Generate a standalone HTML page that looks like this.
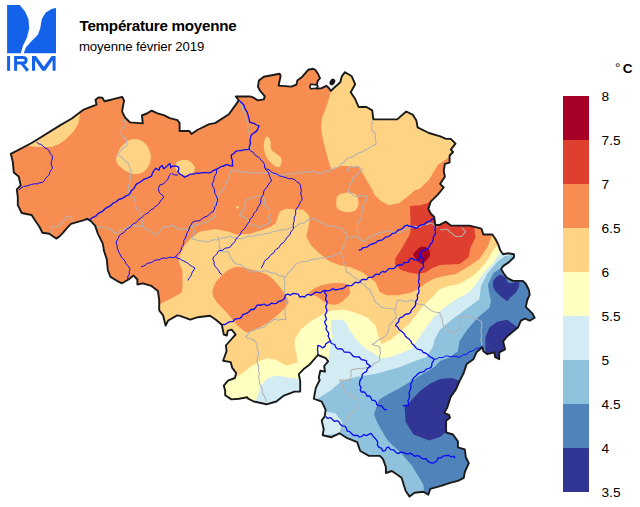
<!DOCTYPE html>
<html><head><meta charset="utf-8">
<style>
html,body{margin:0;padding:0;background:#fff;}
body{width:640px;height:507px;position:relative;overflow:hidden;font-family:"Liberation Sans",sans-serif;}
.t{position:absolute;white-space:nowrap;color:#000;line-height:1;}
</style></head><body>
<svg width="640" height="507" viewBox="0 0 640 507" style="position:absolute;left:0;top:0">
<defs><clipPath id="be"><polygon points="10.8,153.8 31.6,143.0 36.5,140.0 60.0,125.4 71.8,118.5 83.7,109.6 96.5,104.7 95.5,99.7 98.5,97.4 102.4,97.8 104.4,101.3 111.3,99.7 122.1,96.8 124.1,100.7 123.1,105.6 122.1,111.6 125.1,117.5 130.0,122.4 142.8,123.4 141.9,115.5 146.8,113.5 151.7,110.6 157.5,113.3 163.8,115.2 169.7,118.2 177.6,120.2 179.6,123.1 179.6,131.0 189.4,131.0 191.4,134.0 197.3,130.0 209.2,124.1 215.1,123.1 228.9,114.2 238.8,100.4 235.8,96.5 250.0,96.4 253.0,97.4 257.9,100.4 263.8,99.4 264.8,96.4 259.9,90.5 257.9,86.6 258.9,80.6 263.8,76.7 279.6,73.7 280.6,75.7 278.6,85.6 291.4,86.6 296.4,84.6 297.3,80.6 302.3,76.7 308.2,69.8 313.1,68.8 315.3,69.8 318.4,74.5 320.0,78.4 317.7,80.8 316.9,84.7 316.1,88.6 321.6,88.2 326.3,85.8 328.6,87.8 330.9,90.9 334.1,87.8 340.3,82.3 341.9,76.1 345.0,72.2 347.6,73.7 351.8,76.3 355.2,84.3 350.7,92.2 355.2,99.0 358.6,107.0 366.5,107.0 372.2,110.4 373.4,119.4 385.8,119.4 397.2,119.4 406.2,111.5 413.0,114.9 416.4,120.6 417.6,127.4 428.9,133.0 440.3,136.4 446.0,138.9 450.8,138.9 455.5,143.7 450.8,149.6 453.1,152.0 449.6,155.5 449.6,162.6 444.9,163.8 443.7,170.9 444.9,176.8 440.1,183.9 443.7,187.5 437.8,194.6 430.7,201.7 428.3,208.8 430.7,213.5 434.2,217.0 435.4,225.3 440.0,224.7 445.9,221.7 450.8,225.6 459.7,225.6 469.6,225.6 481.4,228.6 483.4,234.5 492.3,234.5 495.2,238.5 498.2,244.4 500.2,250.3 503.1,254.2 508.0,253.3 514.0,254.2 514.0,257.2 509.0,262.1 503.1,266.1 501.1,269.0 504.1,274.0 507.1,277.9 513.0,280.9 522.8,280.9 525.8,283.8 528.8,289.7 529.7,294.7 527.3,300.0 525.8,306.9 532.7,313.8 534.7,317.8 529.7,320.7 524.8,318.7 520.9,320.7 517.9,327.6 513.0,331.6 507.1,336.5 503.1,341.4 505.1,349.3 499.2,352.3 499.2,359.2 495.2,357.2 494.2,352.3 487.3,354.2 483.4,351.3 482.4,347.3 476.5,352.3 473.5,359.2 466.6,364.1 463.7,373.0 459.7,380.9 455.8,389.7 450.8,396.6 447.1,407.9 444.1,412.8 449.0,414.8 450.0,417.8 446.1,420.7 446.1,432.5 453.0,434.5 457.9,441.4 457.9,447.3 464.8,449.3 465.8,457.2 468.8,463.1 464.8,472.0 463.8,477.9 457.9,480.9 450.0,482.8 441.1,485.8 430.3,488.8 428.3,494.7 423.4,491.7 414.5,492.7 409.6,496.6 405.6,490.7 403.7,484.8 401.7,477.9 397.8,475.0 391.8,471.0 385.9,473.0 385.9,467.1 383.0,459.2 379.9,455.9 369.0,455.9 360.2,451.0 357.2,442.1 347.3,438.2 339.4,433.3 331.6,437.2 322.7,435.2 323.7,429.3 321.7,420.4 324.7,416.5 325.6,409.6 321.7,401.7 313.8,398.7 315.8,387.9 319.7,380.0 318.7,377.9 320.3,370.8 325.0,371.6 324.2,366.0 328.1,361.3 325.8,358.1 317.9,355.0 310.0,364.2 304.4,368.4 298.8,374.1 300.2,381.1 300.2,391.6 294.5,391.6 283.3,395.9 276.3,401.5 266.4,404.3 253.8,401.5 248.1,398.7 247.3,397.3 239.0,398.7 231.4,399.4 225.2,395.2 225.2,391.1 223.8,385.6 228.0,380.7 234.9,378.0 236.2,373.1 232.1,367.6 230.7,362.1 223.1,360.7 226.6,351.0 225.9,345.5 230.7,340.0 235.6,334.5 231.7,329.6 227.8,330.6 226.8,335.5 223.8,334.5 221.8,324.7 215.9,319.7 210.0,315.8 197.9,317.2 190.3,319.7 180.0,315.9 177.2,315.4 168.2,320.5 165.6,325.6 163.1,315.4 159.2,310.3 159.2,300.0 157.9,291.0 151.5,285.9 142.6,283.3 137.4,284.6 137.4,279.5 133.6,275.6 128.5,279.5 122.0,283.3 116.9,280.8 110.5,276.9 107.9,270.5 106.7,259.0 104.1,251.3 102.8,243.6 97.7,233.3 95.1,225.6 90.7,220.9 86.8,218.9 84.8,219.9 77.9,221.9 71.0,223.8 67.1,227.8 63.1,232.7 59.2,236.6 56.2,238.6 49.3,233.7 42.4,232.7 39.4,226.8 35.5,220.9 31.6,215.0 21.7,213.0 17.8,205.1 17.8,197.2 16.8,189.3 20.7,185.4 18.7,176.5 13.8,172.5 12.8,161.7"/></clipPath></defs>
<g fill="#1462ea">
<path d="M7.1,5 L19.7,5 L25.2,11.8 L28.4,18.9 L29.2,28.4 L26.8,37.9 L22.9,45.8 L20.8,53.3 L7.1,53.3Z"/>
<rect x="7.1" y="55.9" width="3" height="14.9"/>
<path d="M32,70.8 L32,55.9 L36,55.9 L43.8,66.8 L51.6,55.9 L55.6,55.9 L55.6,70.8 L52.6,70.8 L52.6,60.3 L45.3,70.8 L42.3,70.8 L35.1,60.3 L35.1,70.8Z"/>
<path d="M56,7.9 L56,53.3 L23.7,53.3 L26,47.3 L31.6,41 L37.9,34.7 L40.2,28.4 L41.8,18.9 L45.8,12.6 L52.1,8.7Z"/>
</g>
<path fill="none" stroke="#1462ea" stroke-width="3" d="M15.6,70.8 V57.4 H22.8 Q26.1,57.4 26.1,60.2 Q26.1,62.9 22.8,62.9 H15.6 M21.5,62.9 L27.8,70.8"/>
<g clip-path="url(#be)">
<polygon fill="#f88d52" points="10.8,153.8 31.6,143.0 36.5,140.0 60.0,125.4 71.8,118.5 83.7,109.6 96.5,104.7 95.5,99.7 98.5,97.4 102.4,97.8 104.4,101.3 111.3,99.7 122.1,96.8 124.1,100.7 123.1,105.6 122.1,111.6 125.1,117.5 130.0,122.4 142.8,123.4 141.9,115.5 146.8,113.5 151.7,110.6 157.5,113.3 163.8,115.2 169.7,118.2 177.6,120.2 179.6,123.1 179.6,131.0 189.4,131.0 191.4,134.0 197.3,130.0 209.2,124.1 215.1,123.1 228.9,114.2 238.8,100.4 235.8,96.5 250.0,96.4 253.0,97.4 257.9,100.4 263.8,99.4 264.8,96.4 259.9,90.5 257.9,86.6 258.9,80.6 263.8,76.7 279.6,73.7 280.6,75.7 278.6,85.6 291.4,86.6 296.4,84.6 297.3,80.6 302.3,76.7 308.2,69.8 313.1,68.8 315.3,69.8 318.4,74.5 320.0,78.4 317.7,80.8 316.9,84.7 316.1,88.6 321.6,88.2 326.3,85.8 328.6,87.8 330.9,90.9 334.1,87.8 340.3,82.3 341.9,76.1 345.0,72.2 347.6,73.7 351.8,76.3 355.2,84.3 350.7,92.2 355.2,99.0 358.6,107.0 366.5,107.0 372.2,110.4 373.4,119.4 385.8,119.4 397.2,119.4 406.2,111.5 413.0,114.9 416.4,120.6 417.6,127.4 428.9,133.0 440.3,136.4 446.0,138.9 450.8,138.9 455.5,143.7 450.8,149.6 453.1,152.0 449.6,155.5 449.6,162.6 444.9,163.8 443.7,170.9 444.9,176.8 440.1,183.9 443.7,187.5 437.8,194.6 430.7,201.7 428.3,208.8 430.7,213.5 434.2,217.0 435.4,225.3 440.0,224.7 445.9,221.7 450.8,225.6 459.7,225.6 469.6,225.6 481.4,228.6 483.4,234.5 492.3,234.5 495.2,238.5 498.2,244.4 500.2,250.3 503.1,254.2 508.0,253.3 514.0,254.2 514.0,257.2 509.0,262.1 503.1,266.1 501.1,269.0 504.1,274.0 507.1,277.9 513.0,280.9 522.8,280.9 525.8,283.8 528.8,289.7 529.7,294.7 527.3,300.0 525.8,306.9 532.7,313.8 534.7,317.8 529.7,320.7 524.8,318.7 520.9,320.7 517.9,327.6 513.0,331.6 507.1,336.5 503.1,341.4 505.1,349.3 499.2,352.3 499.2,359.2 495.2,357.2 494.2,352.3 487.3,354.2 483.4,351.3 482.4,347.3 476.5,352.3 473.5,359.2 466.6,364.1 463.7,373.0 459.7,380.9 455.8,389.7 450.8,396.6 447.1,407.9 444.1,412.8 449.0,414.8 450.0,417.8 446.1,420.7 446.1,432.5 453.0,434.5 457.9,441.4 457.9,447.3 464.8,449.3 465.8,457.2 468.8,463.1 464.8,472.0 463.8,477.9 457.9,480.9 450.0,482.8 441.1,485.8 430.3,488.8 428.3,494.7 423.4,491.7 414.5,492.7 409.6,496.6 405.6,490.7 403.7,484.8 401.7,477.9 397.8,475.0 391.8,471.0 385.9,473.0 385.9,467.1 383.0,459.2 379.9,455.9 369.0,455.9 360.2,451.0 357.2,442.1 347.3,438.2 339.4,433.3 331.6,437.2 322.7,435.2 323.7,429.3 321.7,420.4 324.7,416.5 325.6,409.6 321.7,401.7 313.8,398.7 315.8,387.9 319.7,380.0 318.7,377.9 320.3,370.8 325.0,371.6 324.2,366.0 328.1,361.3 325.8,358.1 317.9,355.0 310.0,364.2 304.4,368.4 298.8,374.1 300.2,381.1 300.2,391.6 294.5,391.6 283.3,395.9 276.3,401.5 266.4,404.3 253.8,401.5 248.1,398.7 247.3,397.3 239.0,398.7 231.4,399.4 225.2,395.2 225.2,391.1 223.8,385.6 228.0,380.7 234.9,378.0 236.2,373.1 232.1,367.6 230.7,362.1 223.1,360.7 226.6,351.0 225.9,345.5 230.7,340.0 235.6,334.5 231.7,329.6 227.8,330.6 226.8,335.5 223.8,334.5 221.8,324.7 215.9,319.7 210.0,315.8 197.9,317.2 190.3,319.7 180.0,315.9 177.2,315.4 168.2,320.5 165.6,325.6 163.1,315.4 159.2,310.3 159.2,300.0 157.9,291.0 151.5,285.9 142.6,283.3 137.4,284.6 137.4,279.5 133.6,275.6 128.5,279.5 122.0,283.3 116.9,280.8 110.5,276.9 107.9,270.5 106.7,259.0 104.1,251.3 102.8,243.6 97.7,233.3 95.1,225.6 90.7,220.9 86.8,218.9 84.8,219.9 77.9,221.9 71.0,223.8 67.1,227.8 63.1,232.7 59.2,236.6 56.2,238.6 49.3,233.7 42.4,232.7 39.4,226.8 35.5,220.9 31.6,215.0 21.7,213.0 17.8,205.1 17.8,197.2 16.8,189.3 20.7,185.4 18.7,176.5 13.8,172.5 12.8,161.7"/>
<polygon fill="#fed384" points="26.0,144.0 27.6,145.9 39.4,146.9 51.3,146.9 59.2,144.0 65.1,140.0 73.8,131.3 78.7,122.4 79.7,115.5 82.0,100.0 20.0,135.0"/>
<path fill="#fed384" d="M117.2,155.0 C118.0,152.7 119.1,149.6 121.1,147.1 C123.1,144.6 126.4,141.5 129.0,140.2 C131.6,138.9 134.3,138.7 136.9,139.2 C139.5,139.7 142.7,141.1 144.8,143.1 C146.9,145.1 148.7,148.4 149.7,151.0 C150.7,153.6 151.2,155.9 150.7,158.9 C150.2,161.9 148.8,166.3 146.8,168.8 C144.8,171.3 141.9,173.0 138.9,173.7 C135.9,174.3 132.1,173.8 129.0,172.7 C125.9,171.5 122.3,168.8 120.2,166.8 C118.1,164.8 116.7,162.9 116.2,160.9 C115.7,158.9 116.4,157.3 117.2,155.0Z"/>
<path fill="#fed384" d="M175.6,163.8 C176.4,161.9 179.7,160.4 182.0,160.0 C184.3,159.6 187.5,160.0 189.7,161.3 C191.8,162.6 194.7,165.6 194.9,167.7 C195.1,169.8 193.2,172.8 191.0,174.1 C188.8,175.4 184.3,175.8 182.0,175.4 C179.7,175.0 178.0,173.4 176.9,171.5 C175.8,169.6 174.8,165.7 175.6,163.8Z"/>
<path fill="#fed384" d="M265.0,138.8 C265.6,137.0 266.3,136.2 267.2,136.6 C268.1,136.9 269.8,138.7 270.5,140.9 C271.2,143.1 269.8,146.8 271.6,149.7 C273.4,152.6 280.3,155.5 281.4,158.4 C282.5,161.3 280.5,167.2 278.1,167.2 C275.7,167.2 269.6,161.7 267.2,158.4 C264.8,155.1 264.3,150.8 263.9,147.5 C263.5,144.2 264.4,140.6 265.0,138.8Z"/>
<polygon fill="#fed384" points="330.9,91.5 328.9,98.4 325.9,108.3 322.0,118.1 321.0,128.0 323.0,139.8 325.9,151.6 329.9,165.8 331.8,169.7 341.7,165.8 358.6,167.1 362.4,172.7 367.3,181.6 372.3,189.4 374.2,194.4 381.1,201.3 389.0,205.2 398.9,203.3 406.8,197.3 414.7,190.4 420.0,188.5 428.9,180.0 438.0,164.8 444.8,160.3 470.0,140.0 440.0,90.0 360.0,50.0 333.0,80.0"/>
<path fill="#fed384" d="M336.8,197.3 C337.3,195.2 337.9,195.2 339.7,194.4 C341.5,193.6 345.0,192.4 347.6,192.4 C350.2,192.4 353.7,192.9 355.5,194.4 C357.3,195.9 358.3,198.8 358.5,201.3 C358.7,203.8 358.0,207.4 356.5,209.2 C355.0,211.0 352.1,211.8 349.6,212.1 C347.1,212.4 343.8,211.9 341.7,211.1 C339.6,210.3 337.6,209.5 336.8,207.2 C336.0,204.9 336.3,199.4 336.8,197.3Z"/>
<polygon fill="#fed384" points="150.0,310.0 163.1,302.6 172.0,298.0 181.6,292.7 182.5,287.2 182.5,271.3 178.6,261.4 179.6,255.5 184.5,245.6 189.4,239.7 199.3,231.8 215.1,228.9 228.9,231.8 236.8,234.8 250.0,233.8 262.0,230.0 270.0,227.0 275.6,223.5 279.6,211.7 285.5,208.7 303.3,209.7 309.2,215.6 309.2,223.5 306.2,236.4 311.1,245.2 319.0,253.1 328.9,261.0 338.8,265.0 350.0,266.9 361.8,272.0 370.0,278.0 375.5,282.1 379.7,291.8 386.6,295.2 397.6,295.2 410.0,293.1 418.3,289.0 425.2,283.5 433.5,279.0 440.0,277.0 455.8,274.0 467.6,267.1 479.4,259.2 487.3,247.3 492.3,234.5 520.0,240.0 560.0,300.0 500.0,520.0 150.0,520.0"/>
<path fill="#f88d52" d="M212.5,292.0 C212.3,289.2 214.1,286.1 215.0,284.0 C215.9,281.9 216.2,281.7 218.0,279.7 C219.8,277.7 222.6,274.1 225.6,272.0 C228.6,269.9 231.6,267.3 235.9,266.9 C240.2,266.5 246.2,268.2 251.3,269.5 C256.4,270.8 262.4,272.2 266.7,274.6 C271.0,277.0 274.1,280.7 276.9,283.6 C279.7,286.5 281.4,289.3 283.3,292.0 C285.2,294.7 287.2,298.0 288.0,300.0 C288.8,302.0 289.1,302.0 287.9,304.0 C286.7,306.0 284.1,308.9 281.0,311.8 C277.9,314.8 273.5,318.7 269.2,321.7 C264.9,324.7 259.0,327.8 255.4,329.6 C251.8,331.4 250.5,333.2 247.5,332.5 C244.5,331.8 240.9,328.7 237.6,325.6 C234.3,322.5 231.4,317.9 227.8,313.8 C224.2,309.7 218.6,304.6 216.0,301.0 C213.4,297.4 212.7,294.8 212.5,292.0Z"/>
<path fill="#f88d52" d="M308.6,293.0 C309.3,291.8 313.4,289.0 316.3,287.5 C319.2,286.0 322.7,284.9 326.1,284.2 C329.6,283.5 333.5,283.1 337.0,283.1 C340.5,283.1 344.8,283.2 346.9,284.2 C349.0,285.2 349.2,287.5 349.6,289.1 C350.1,290.8 350.4,292.4 349.6,294.1 C348.8,295.8 346.6,297.9 344.7,299.5 C342.8,301.1 340.3,303.1 338.1,303.9 C335.9,304.7 334.0,304.9 331.6,304.5 C329.2,304.1 326.1,302.9 323.9,301.7 C321.7,300.5 320.4,298.6 318.4,297.4 C316.4,296.2 313.5,295.3 311.9,294.6 C310.3,293.9 307.9,294.2 308.6,293.0Z"/>
<polygon fill="#de3f2e" points="410.0,206.0 420.0,205.2 428.0,203.0 440.0,195.0 445.0,215.0 474.5,215.0 474.5,228.6 475.5,237.5 470.6,247.3 468.6,257.2 459.7,264.1 440.0,265.1 432.1,268.3 425.2,272.4 416.9,273.8 408.7,272.4 400.4,269.7 394.9,264.1 395.5,258.0 400.0,251.6 409.5,235.0 410.5,231.0 410.5,223.0"/>
<polygon fill="#a50026" points="420.5,246.8 426.0,246.8 430.0,251.6 430.0,255.9 426.8,260.2 422.1,264.2 418.1,261.8 413.0,254.7 415.8,250.8"/>
<polygon fill="#ffffbf" points="212.0,378.0 237.6,376.6 245.9,370.4 251.4,366.2 260.0,360.7 267.2,358.2 276.3,360.0 286.1,365.6 297.4,362.8 296.8,355.2 294.8,347.3 294.8,339.4 300.7,329.6 310.0,321.7 320.0,316.0 329.5,311.0 343.7,309.5 354.7,312.6 367.3,317.4 375.2,325.2 378.4,336.3 381.5,344.2 391.0,339.4 401.0,331.3 410.0,323.0 416.0,315.0 423.0,306.0 430.0,299.5 436.0,293.2 440.0,289.0 449.4,286.0 459.7,283.8 474.5,275.0 485.4,263.1 493.3,250.3 498.2,244.4 540.0,250.0 540.0,520.0 220.0,520.0"/>
<polygon fill="#d3ecf4" points="250.0,420.0 257.3,396.6 260.8,385.3 267.8,378.3 276.3,375.5 284.7,376.9 298.8,379.0 300.2,381.1 328.1,361.3 330.0,350.0 330.5,342.0 332.9,336.7 331.4,330.8 330.9,322.9 331.9,319.9 341.8,319.5 346.7,322.9 348.7,328.8 353.6,335.7 358.5,342.6 365.4,348.5 372.4,352.5 381.5,358.4 391.0,356.8 400.0,353.6 411.0,349.0 416.9,341.1 422.0,333.0 428.0,325.0 433.0,318.0 440.0,311.0 455.0,300.0 469.6,292.0 478.0,281.0 486.0,270.0 493.3,263.0 500.2,252.0 540.0,250.0 540.0,520.0 250.0,520.0"/>
<polygon fill="#8fc3dd" points="310.0,410.0 317.7,398.7 331.7,389.8 342.2,380.5 357.0,376.8 375.0,374.0 388.0,370.5 400.0,367.0 415.0,360.9 426.8,356.9 432.7,347.1 434.7,339.2 440.0,329.5 452.0,319.5 465.5,309.5 479.2,299.5 481.0,286.0 487.0,274.0 497.0,262.0 505.0,256.0 540.0,250.0 540.0,520.0 310.0,520.0"/>
<polygon fill="#d3ecf4" points="322.0,409.0 325.6,411.6 335.5,413.5 342.4,422.4 339.4,433.3 320.0,436.0"/>
<polygon fill="#5183bb" points="374.0,414.5 377.0,422.0 381.0,429.3 388.0,441.0 400.0,452.0 406.0,459.0 411.6,465.1 417.0,474.0 423.4,484.8 424.4,495.0 540.0,520.0 540.0,250.0 520.0,262.0 503.0,267.0 493.3,273.0 488.0,284.8 489.0,292.0 491.0,301.0 489.3,307.9 477.5,317.8 467.0,330.0 459.5,341.0 457.8,351.3 449.9,357.2 440.0,361.0 434.7,366.8 424.8,372.7 413.0,380.0 400.0,387.9 388.8,393.8 378.9,399.7"/>
<path fill="#313695" d="M493.3,281.1 C494.1,278.8 497.2,275.9 499.2,275.2 C501.2,274.5 503.5,275.9 505.1,277.2 C506.7,278.5 506.7,282.3 509.0,283.1 C511.3,283.9 517.6,280.8 518.9,282.1 C520.2,283.4 518.5,288.2 516.9,291.0 C515.2,293.8 510.6,297.2 509.0,298.9 C507.4,300.5 508.7,301.5 507.1,300.9 C505.5,300.2 501.4,297.0 499.2,295.0 C497.0,293.0 495.2,291.3 494.2,289.0 C493.2,286.7 492.5,283.4 493.3,281.1Z"/>
<polygon fill="#313695" points="485.4,349.3 485.4,337.5 489.3,327.6 497.2,321.7 507.1,319.7 515.0,325.6 517.9,327.6 530.0,335.0 505.0,375.0 486.0,358.0"/>
<polygon fill="#313695" points="404.7,408.0 411.6,400.0 420.0,391.0 430.3,383.6 440.0,378.9 451.8,377.9 460.0,380.9 475.0,390.0 470.0,430.0 446.1,431.6 441.1,436.5 429.3,440.4 413.5,434.5 405.6,421.7"/>
<circle cx="237.4" cy="207.3" r="1.3" fill="#fed384"/>
<g fill="none" stroke="#b2b2b2" stroke-width="1.05" stroke-linejoin="round">
<polyline points="124.1,118.5 124.6,122.1 126.1,125.4 122.1,128.3 121.1,131.7 121.1,135.2 123.8,136.9 126.1,139.2 126.4,142.2 127.1,145.1 125.2,147.0 122.7,148.2 121.2,150.5 119.5,152.6 117.2,154.0 119.1,155.7 121.5,156.8 123.1,158.9 125.0,160.9 127.4,162.5 129.0,164.8 129.5,167.5 130.9,169.9 131.0,172.7 130.1,175.4 130.6,178.3 130.0,181.0 129.1,183.7 128.5,186.5 128.9,189.4 128.0,192.1 127.3,194.9 130.9,195.9 134.2,197.6 134.1,200.5 135.6,203.1 135.6,205.9 136.5,208.6 138.7,210.6 140.0,213.0 141.1,215.6 141.3,218.4 142.4,221.0 142.2,223.8 142.5,226.6"/>
<polyline points="50.3,232.7 51.3,229.8 51.3,226.8 53.9,226.5 56.6,226.7 59.2,225.8 60.9,223.6 63.1,221.9 65.1,217.9 67.9,216.4 71.0,215.9 71.4,218.6 73.0,220.9"/>
<polyline points="95.5,226.6 98.2,227.4 101.1,226.8 103.8,227.7 106.6,228.0 109.5,229.0 112.3,230.4 114.6,232.6 117.6,233.5 120.0,231.0 123.1,229.4 126.1,228.5 128.6,226.5 131.4,225.2 134.1,226.0 136.9,226.0 139.8,225.7 142.5,226.6 145.2,228.5 148.3,229.8 150.8,232.1 153.5,233.6 156.3,234.9 158.3,232.7 160.4,230.6 161.8,228.0 164.4,226.8 167.4,227.0 170.2,226.3 172.8,225.2 175.7,227.2 178.4,229.4 181.2,229.0 183.9,229.2 186.7,229.4 189.2,227.0 192.2,225.2 195.1,225.3 197.7,224.0 200.5,223.9 203.4,223.5 206.1,222.2 208.8,221.1 211.1,219.2 213.8,217.9 215.7,215.6 214.9,213.2 215.5,210.6 215.2,208.1 214.0,205.7 214.3,203.1 215.9,200.8 216.5,198.0 218.7,196.1 219.8,193.5 221.2,190.8 223.6,189.0 225.3,186.6 225.9,184.1 226.6,181.7 228.3,179.7 229.2,177.3 229.2,174.6 230.3,172.4 231.4,170.1 234.2,170.3 237.0,170.5 239.6,171.8 242.5,171.4 245.3,171.7 247.9,173.0 250.8,172.8 253.4,172.4 255.9,173.3 258.5,172.9 261.1,172.2 263.6,172.8 266.2,173.4 268.7,172.7 271.3,172.8 273.6,174.0 275.9,175.0 278.4,175.6 281.2,175.2 284.0,175.1 286.6,173.7 289.4,174.0 292.2,173.7 294.9,172.9 297.7,172.8 300.5,173.0 303.2,171.8 305.9,171.5 308.8,172.2 311.5,171.5 314.5,171.7 317.2,172.7 320.0,173.7 322.9,172.6 325.7,171.2 329.0,171.2 331.8,169.7 334.2,168.0 337.3,167.6 339.7,165.8 341.3,163.5 344.0,162.2 345.6,159.9 347.9,158.1 350.7,157.4 353.5,156.6 355.7,154.7 358.1,153.1 360.9,152.3 363.4,151.6 365.2,149.6 367.7,148.9 370.0,147.8 372.6,145.7 375.6,144.4 376.1,141.4 375.1,138.3 375.6,135.3 374.6,132.7 372.3,131.0 371.1,128.5 372.0,125.9 372.1,123.3 372.2,120.6"/>
<polyline points="240.0,101.0 240.4,103.6 242.2,105.7 242.5,108.3 242.8,110.9 244.5,113.0 245.3,115.4 245.3,118.1 246.6,120.4 247.7,123.0 247.8,125.9 247.7,128.8 248.9,131.4 249.4,134.2 249.2,136.8 249.7,139.3 250.7,141.7 249.9,144.4 250.5,146.9 250.8,149.4"/>
<polyline points="259.6,195.4 261.6,197.1 264.1,197.9 264.3,201.4 264.6,204.8 267.3,207.0 269.5,209.7 269.5,212.8 270.5,215.7 267.5,217.6 269.6,219.5 271.5,221.6 269.2,222.9 267.0,224.4 264.2,224.7 261.9,226.2 259.6,227.5 257.3,226.1 254.7,225.5 252.0,225.1 249.7,223.6 248.4,221.0 246.8,218.6 243.4,217.0 239.9,215.7 240.9,211.7 244.8,208.8 245.2,205.8 244.8,202.8 246.8,199.4 249.7,198.5 252.7,197.9 256.0,196.3 259.6,195.4"/>
<polyline points="192.2,225.2 193.1,228.2 194.9,230.8 194.0,233.5 192.6,236.1 192.2,239.0 195.0,239.2 197.6,240.6 200.4,240.9 203.4,240.7 206.0,241.8 208.9,241.8 211.5,240.6 214.2,239.6 217.1,240.0 219.8,239.0 222.2,237.8 225.0,238.1 227.5,237.0 230.0,236.3 232.7,237.6 235.6,238.0 238.5,238.7 241.1,238.4 243.7,238.2 246.1,236.9 248.6,236.2 251.3,236.2 253.9,236.3 256.3,235.0 258.9,235.1 261.5,234.9 264.0,233.9 266.6,233.4 269.3,233.5 271.7,231.9 274.3,231.5 276.9,231.0 279.4,230.1 282.0,229.7 284.7,230.0 287.2,229.2 289.7,228.5 292.3,227.4 295.1,227.0 297.4,225.3 299.8,223.8 302.6,223.3 305.3,222.3 307.4,220.2 310.4,219.7 312.8,218.2 315.6,218.9 317.8,221.1 320.4,222.3 323.1,223.3 325.4,224.7 327.9,225.9 330.6,225.9 333.2,226.1 335.8,226.9 338.3,228.3 341.2,228.4 343.7,229.9 344.5,232.5 346.5,234.4 347.6,236.8 350.9,237.4 354.2,236.6 357.5,236.8 359.1,238.9 361.6,239.9 363.4,241.7 365.7,240.5 367.4,238.5 369.3,236.8 371.9,235.8 374.8,235.4 377.2,233.8 379.6,232.3 382.6,232.2 385.1,230.9 387.9,230.7 390.6,231.8 393.3,232.5 396.2,231.8 398.9,232.8 401.7,231.9 403.9,229.7 406.8,228.9 409.6,228.4 411.9,226.6 414.7,225.9 417.3,226.9 420.0,226.9 422.3,225.4 424.9,224.7 427.6,224.5 429.9,223.0 432.8,223.8 434.9,226.1 437.8,226.9"/>
<polyline points="345.6,171.7 347.9,170.5 349.3,168.0 351.6,166.8 354.2,167.3 356.8,166.4 359.4,166.8 362.4,170.7 359.8,172.0 357.5,173.7 355.9,175.8 353.7,177.2 352.5,179.6 352.0,182.2 350.1,184.1 349.4,186.6 349.1,189.3 347.6,191.4 349.9,193.1 352.5,194.3 354.5,196.4 357.2,196.3 359.9,195.3 362.7,195.8 365.4,195.4 367.3,198.3 365.8,201.5 363.4,204.2 362.6,206.7 363.1,209.4 362.3,212.0 361.2,214.4 361.4,217.1 360.3,219.8 358.3,222.1 357.5,225.0 357.6,227.9 356.9,230.9 357.9,233.9 357.5,236.8"/>
<polyline points="218.0,236.2 217.9,238.8 219.4,241.2 219.2,243.9 219.1,246.5 220.5,248.9 220.5,251.5 223.1,252.0 225.6,251.7 228.2,251.5 229.6,254.0 230.2,256.9 232.1,259.2 233.3,261.8 235.7,263.5 238.4,264.5 241.3,265.1 243.6,266.9 246.1,268.6 249.0,269.8 251.3,272.0 253.9,271.9 256.4,271.0 259.0,271.6 261.6,271.7 264.1,270.7 266.7,270.8 269.1,272.1 271.7,273.0 274.5,273.1 277.0,274.3 279.3,275.9 282.2,275.9 284.6,277.2 286.9,275.6 287.9,272.9 290.0,271.1 292.3,269.5 293.5,266.9 295.3,264.9 297.4,263.1 300.0,262.7 302.4,261.4 305.1,261.4 307.8,261.5 310.2,260.2 312.7,259.2 315.4,259.2 318.1,259.0 320.6,257.7 323.4,258.1 326.0,257.7 328.6,256.4 331.3,256.5 333.8,255.8 336.0,254.0 338.7,253.7 341.1,252.6 341.9,249.8 342.8,247.2 344.7,244.9 345.8,242.2 346.1,239.2 347.6,236.8"/>
<polyline points="284.6,277.2 284.1,279.8 285.1,282.3 284.6,284.9 284.1,287.5 285.0,290.0 284.6,292.6 285.0,295.2 286.1,297.6 287.2,300.0 286.8,302.5 285.5,304.8 285.6,307.4 285.0,309.9 284.9,313.2 285.5,316.4 285.9,319.7 283.3,319.2 280.8,319.6 278.2,320.2 275.7,319.2 273.1,319.7 271.5,321.7 269.1,322.7 266.9,324.0 265.4,326.2 263.3,327.6 260.2,328.0 257.2,328.7 254.5,330.3 251.4,330.6 249.0,332.1 247.7,334.8 245.5,336.5 247.7,338.3 250.6,338.6 253.0,340.0 255.4,341.4 256.5,343.8 257.2,346.3 257.0,349.0 258.3,351.3 258.6,354.3 257.9,357.2 257.0,360.1 257.3,363.1 258.5,365.6 258.7,368.4 258.5,371.0 259.6,373.4 258.8,376.0 259.0,378.6 259.4,381.1 259.8,383.6 260.6,386.1 262.1,388.3 262.2,390.9 262.7,393.9 264.6,396.4 265.8,399.2 266.4,402.2"/>
<polyline points="341.1,252.6 341.4,255.2 343.1,257.4 343.3,260.0 343.6,262.6 345.2,264.8 345.9,267.3 345.8,270.0 347.1,272.3 349.8,273.4 351.9,275.4 353.8,277.5 356.6,278.6 358.9,280.2 360.5,282.2 362.6,283.7 365.0,284.9 366.3,287.3 368.4,288.7 370.4,290.4 370.9,293.0 372.1,295.3 373.7,297.4 374.1,300.0 376.0,302.7 378.9,304.5 381.0,307.0 384.4,308.0 388.0,308.3 391.6,308.5 394.9,309.7 396.1,307.4 395.9,304.8 396.7,302.4 397.6,300.0 401.1,300.3 404.5,301.4 408.1,301.3 411.4,300.0 413.9,301.1 415.7,303.3 418.3,304.2 421.9,304.3 425.2,305.6 427.1,307.9 429.8,309.2 432.1,311.1 434.7,311.9 437.3,312.3 440.0,312.5"/>
<polyline points="394.9,309.7 394.8,312.5 396.3,315.1 396.2,318.0 394.0,319.5 392.8,322.0 390.7,323.5 389.4,325.7 388.8,328.2 388.7,330.8 387.5,333.1 386.5,335.4 384.1,336.9 381.9,338.8 379.0,339.4 376.8,341.1 374.7,343.2 372.0,344.2 374.6,345.3 377.5,345.8 380.0,347.3 379.9,349.8 380.6,352.4 379.8,354.9 379.4,357.5 380.0,360.0 378.1,362.0 375.3,362.8 373.1,364.3 371.4,366.7 368.9,367.8 366.0,367.5 363.2,368.7 360.3,368.8 357.3,368.3 354.5,369.6 351.6,369.4 350.6,372.0 351.2,374.8 350.7,377.4 350.0,380.0 347.4,379.8 344.7,380.6 342.0,380.1 339.4,380.0 340.7,382.3 342.3,384.5 342.7,387.2 343.9,389.6 345.4,391.8 347.6,393.6 350.0,395.2 352.8,396.0 354.6,398.4 357.2,399.7 357.8,402.3 357.0,405.0 357.2,407.6 355.5,409.8 353.6,411.9 351.0,413.2 349.3,415.5 348.5,418.4 346.9,420.9 345.4,423.4 343.9,426.1 342.4,428.9 340.4,431.3"/>
<polyline points="440.0,312.5 440.3,315.3 442.1,317.7 442.3,320.6 442.6,323.5 443.9,326.0 446.1,327.6 447.5,330.1 449.7,331.8 451.8,333.5 454.4,331.8 457.4,330.7 459.7,328.6 459.0,325.9 459.8,323.0 459.3,320.3 459.0,317.5 462.0,317.4 464.7,316.4 467.6,315.8 470.6,317.3 473.9,318.0 477.1,318.9 479.2,320.4 481.4,321.7 481.7,324.3 481.9,327.0 481.0,329.6 481.0,332.2 481.9,334.9 481.5,337.5 480.8,340.1 481.8,342.8 481.4,345.4"/>
<polyline points="440.0,229.6 442.6,230.1 445.3,229.1 447.9,229.6 449.5,231.9 452.1,233.2 453.8,235.5 456.4,236.4 459.0,236.4 461.7,236.5 463.5,234.0 465.6,231.6 463.6,229.7 461.7,227.6"/>
</g>
<g fill="none" stroke="#0a0af5" stroke-width="1.25" stroke-linejoin="round">
<polyline stroke-width="1.0" points="36.5,142.0 38.4,143.7 41.1,144.4 43.0,146.2 44.9,147.9 47.3,148.9 49.2,151.0 50.3,153.8 52.3,155.8 52.3,158.8 51.3,161.7 51.1,164.1 52.0,166.3 52.3,168.6 50.7,170.4 49.7,172.5 49.0,174.8 47.3,176.5 45.6,178.4 44.4,180.7 42.4,182.4 39.7,182.8 37.1,183.9 34.3,183.8 31.6,184.4 29.0,185.3 26.4,186.1 23.7,186.4 21.0,188.1 18.7,190.3"/>
<polyline stroke-width="1.3" points="86.8,218.9 90.0,219.7 91.8,218.0 94.0,216.9 96.1,215.8 97.7,213.9 99.7,212.6 102.0,211.7 103.8,210.0 105.6,208.3 107.7,207.2 109.9,206.2 111.7,204.5 113.5,202.8 115.8,202.0 117.6,200.4 119.7,199.0 122.2,198.5 124.3,197.1 126.3,195.7 128.7,194.9 130.1,193.1 131.1,191.0 132.9,189.4 134.5,187.7 135.4,185.5 136.9,183.8 139.4,182.5 141.7,181.0 143.9,179.3 147.9,177.8 151.8,175.8 152.2,173.4 154.2,170.3 155.8,168.3 158.9,170.3 159.7,167.5 162.1,165.5 163.7,168.7 166.0,167.1 168.4,164.7 170.0,163.6 170.8,167.9 171.6,166.3 175.5,165.9 178.7,167.1 178.7,169.5 177.9,171.8 180.0,174.2 182.5,175.4 184.6,177.2 187.4,175.9 190.0,174.2 192.2,174.2 194.4,173.8 196.6,173.0 198.8,173.3 201.0,172.9 203.8,172.7 206.5,172.6 209.3,172.9 211.5,172.1 213.3,170.5 215.5,169.6 217.6,168.7 219.6,167.5 221.6,166.4 224.0,166.0 225.9,164.6 228.2,164.8 230.4,165.9 232.8,165.9 232.3,163.7 232.6,161.5 232.0,159.3 231.3,157.2 231.4,154.9 233.5,153.9 235.0,152.1 236.9,150.8 239.4,150.7 241.9,150.5 244.4,149.6 246.9,149.7 249.4,149.4 249.2,147.1 250.0,144.8 250.4,142.5 249.9,140.2 250.6,137.9 250.8,135.6 252.5,134.0 254.3,132.6 256.3,131.4 257.9,128.8 259.0,125.9 256.5,125.0 254.4,123.5 251.8,122.9 249.4,121.8 249.3,119.4 248.5,117.2 248.0,114.9 247.3,112.3 245.9,110.1 244.6,107.7 243.9,105.2 241.9,103.0 239.7,101.0"/>
<polyline stroke-width="1.0" points="171.6,173.4 174.7,175.0 177.9,175.0"/>
<polyline stroke-width="1.0" points="170.8,173.4 169.2,175.8 167.6,179.7 165.6,181.7 163.7,183.7 159.7,185.2 158.5,188.4 158.7,190.9 159.7,193.1 162.9,195.5 163.7,197.9 161.5,199.6 160.0,201.9 158.5,204.2 156.3,205.9 154.5,207.2 153.1,209.0 150.9,209.7 149.4,211.4 148.0,213.1 145.7,213.8 144.1,215.4 142.5,216.9 140.7,218.2 138.8,219.3 137.5,221.2 135.9,222.8 133.7,223.6 131.9,225.0 130.7,226.9 128.7,228.0 126.4,229.3 125.0,231.5 123.0,233.1 120.6,234.3 119.0,236.3 118.2,238.6 116.7,240.7 116.2,243.2 117.2,245.5 117.2,248.1 118.2,250.4 119.0,252.8 120.4,254.8 121.4,257.2 123.2,259.0 124.9,260.9 125.7,263.4 127.3,265.3 129.1,267.1 130.0,269.4 129.2,271.6 129.4,274.0 128.1,276.0 127.6,278.2 127.3,280.5"/>
<polyline stroke-width="1.0" points="217.6,168.7 216.4,170.7 216.5,173.2 215.2,175.2 214.0,177.2 214.0,179.7 213.2,181.8 212.1,183.9 212.7,186.3 214.1,188.5 214.6,191.0 214.8,193.5 216.1,195.7 217.2,198.0 217.6,200.5 216.7,202.7 216.4,205.1 214.8,207.0 214.3,209.3 213.5,211.5 211.2,212.5 209.3,214.2 207.5,216.1 205.1,216.9 202.8,218.0 201.0,219.8 198.9,220.9 196.5,220.9 194.3,221.5 192.2,222.5 191.2,224.8 189.6,226.7 189.2,229.2 188.0,231.4 186.7,233.5 186.2,236.0 185.2,238.3 183.8,240.5 183.8,243.1 183.0,245.5 181.5,247.6 181.1,250.1 180.1,252.1 178.4,253.6 176.6,255.0 175.6,257.0 173.3,257.7 171.0,257.2 168.7,257.4 166.5,258.4 164.1,257.9 161.8,258.4 159.2,259.8 156.2,259.9 153.5,261.1 151.6,262.5 149.3,262.9 147.1,263.5 145.3,265.1 143.3,266.1 141.1,266.7"/>
<polyline stroke-width="1.0" points="175.6,257.0 177.5,258.3 179.9,258.7 181.8,260.1 183.9,261.1 186.2,262.2 188.4,263.7 190.3,265.5 192.6,266.7 194.9,268.0 193.8,270.1 192.3,272.0 191.5,274.3 190.6,276.5 188.9,278.3 188.0,280.5"/>
<polyline stroke-width="1.0" points="249.4,149.4 250.8,151.3 253.2,152.2 254.6,154.1 256.0,155.9 258.3,156.9 259.9,158.5 261.2,160.6 263.2,161.8 264.4,164.4 264.6,167.3 265.6,169.5 267.4,171.0 268.7,172.9 269.3,175.8 270.5,178.4 271.5,181.1 269.5,182.9 268.0,185.2 266.7,187.6 264.6,189.4 263.7,191.7 263.5,194.3 262.1,196.5 261.0,198.7 260.8,201.3 260.2,203.8 259.0,206.0 257.5,207.7 256.9,210.1 255.4,211.9 253.6,213.5 253.1,215.8 251.7,217.7 249.9,219.2 249.4,221.6 247.9,223.4 246.6,225.3 245.5,227.3 244.1,229.1 242.2,230.5 241.1,232.5 240.2,234.7 238.5,236.2 236.6,237.9 235.5,240.3 234.3,242.6 232.1,244.2 230.8,246.4 228.9,247.7 226.4,247.9 224.3,248.7 222.5,250.3 220.0,250.4 218.0,251.5 217.1,253.7 215.3,255.3 213.7,257.0 212.8,259.2 214.0,261.6 214.2,264.4 215.4,266.9 217.3,268.6 218.7,270.6 219.8,273.0 221.8,274.6"/>
<polyline stroke-width="1.0" points="264.6,167.3 266.4,169.0 269.0,169.7 270.7,171.5 272.8,172.9 275.1,173.4 277.3,174.3 279.3,175.8 281.6,176.4 283.9,177.0 286.1,177.5 288.2,178.6 290.5,178.6 292.8,178.8 294.9,179.8 296.7,181.7 299.0,183.1 300.5,185.3 300.7,187.8 301.4,190.3 300.8,192.9 301.2,195.4 302.1,197.9 301.8,200.5 300.0,202.3 299.2,204.8 298.0,207.0 296.3,208.8 295.5,211.0 295.8,213.5 295.1,215.7 294.0,217.9 294.3,220.4 293.6,222.6 293.1,225.6 293.6,228.5 292.4,230.4 290.6,231.9 290.0,234.2 288.7,236.0 286.8,237.4 285.8,239.4 284.6,241.3 283.0,242.9 281.0,244.1 279.8,246.1 278.5,248.0 276.4,249.1 274.8,250.7 273.8,252.9 271.8,254.1 269.7,255.9 268.3,258.3 265.8,259.7 264.1,261.8 263.7,264.1 262.2,266.0 261.5,268.2"/>
<polyline stroke-width="1.3" points="221.8,324.7 225.1,324.5 227.8,322.7 230.3,321.7 233.0,321.5 234.9,319.1 237.6,318.7 240.0,318.3 241.8,316.7 243.1,314.3 245.4,313.8 247.5,312.8 249.4,311.4 250.9,309.4 253.8,309.5 255.5,307.7 256.8,305.4 259.3,304.9 261.8,305.0 264.2,304.0 266.7,305.7 269.2,304.9 271.2,303.2 274.0,303.6 276.6,303.4 278.5,301.3 281.0,301.0 283.1,299.7 284.8,298.0 285.4,295.2 287.7,294.1 290.3,295.1 292.9,293.5 295.4,293.7 298.0,294.1 300.0,297.2 302.2,296.4 304.7,297.0 306.6,294.9 308.8,294.4 311.4,295.3 313.4,293.8 315.5,292.2 318.1,292.4 320.7,292.8 322.8,291.1 325.2,290.5 327.8,290.8 330.3,290.4 332.6,288.7 335.3,289.9 337.8,289.5 340.2,288.8 342.7,288.5 344.8,287.5 346.6,285.4 349.3,285.7 351.8,285.5 353.7,283.8 355.5,282.2 358.1,282.8 360.2,281.9 361.7,279.7 364.0,279.3 366.6,279.7 368.2,277.6 370.4,277.1 372.9,277.2 374.5,275.1 376.5,274.1 379.2,274.7 380.7,272.5 382.8,271.5 385.4,272.1 387.2,270.4 388.9,268.6 391.5,268.6 394.0,268.6 395.7,266.7 397.5,265.0 400.0,265.0 402.3,264.8 403.9,262.5 406.3,262.6 408.6,261.8 409.4,259.0 411.8,258.3 414.8,259.9 418.1,260.2 420.5,257.1"/>
<polyline stroke-width="1.3" points="358.7,250.2 361.1,249.7 362.8,247.8 365.2,247.4 367.5,246.9 369.3,245.0 371.5,244.1 373.8,243.5 376.0,242.7 377.7,240.9 380.0,240.3 382.4,239.9 384.2,238.2 386.1,236.8 388.6,236.6 390.5,235.2 392.3,233.4 394.9,233.1 396.8,231.5 398.6,229.7 401.2,229.3 403.2,227.7 404.9,225.8 407.3,225.1 409.2,226.4 411.6,226.5 413.8,227.1 415.7,228.4 417.9,227.7 419.5,225.7 421.8,224.9 424.2,224.5 425.8,222.5 427.9,221.5 430.3,221.1 431.9,219.1 434.1,218.4 434.1,220.8 435.6,222.8 435.8,225.1 435.0,227.5 435.1,230.0 435.6,232.6 434.7,235.0 433.3,237.2 433.2,239.8 432.3,242.1 430.7,244.0 429.4,246.1 428.4,248.4 425.9,249.2 423.6,250.3 421.3,251.6 420.5,254.3 420.5,257.1 423.7,258.7 422.9,262.6 423.7,266.6 422.3,268.4 420.5,269.7 419.6,272.1 419.1,274.6 419.0,277.1 419.2,279.3 418.4,281.6 419.2,283.8 419.4,286.0 418.4,288.3 419.0,290.5 418.8,292.8 417.3,294.8 417.6,297.3 417.2,299.5 415.7,301.5 415.7,303.9 415.0,306.3 413.2,308.1 411.4,309.9 410.7,312.3 408.9,313.8 406.5,314.0 404.5,314.9 402.9,316.8 400.6,317.3 399.0,319.2 398.6,321.8 396.7,323.5 395.6,325.7 397.7,327.0 398.9,329.1 400.6,330.7 402.5,332.1 404.3,333.8 405.3,336.1 407.1,337.7 409.0,339.1 410.9,341.1 411.9,343.7 414.1,345.3 415.7,347.5 417.4,349.1 419.6,349.7 421.8,350.4 423.2,352.5 425.5,353.0 427.4,354.2 429.3,356.3 431.8,357.6 434.1,359.2 433.2,361.3 431.9,363.2 431.8,365.6 430.8,367.6 428.4,368.5 426.1,369.4 424.3,371.4 421.9,372.1 419.4,372.7 417.4,374.3 415.7,376.2 413.6,377.8 412.3,380.0 411.8,382.2 410.7,384.3 411.0,386.7 410.5,388.9 409.6,391.0 409.1,393.4 409.6,396.0 409.1,398.4 408.0,400.8 408.4,403.3 408.1,405.8 405.5,405.5 403.0,406.0"/>
<polyline stroke-width="1.0" points="434.1,359.2 436.5,359.1 438.5,357.6 440.9,357.6 443.2,357.5 445.3,356.1 447.6,355.9 450.0,356.7 452.4,356.6 454.9,356.1 457.3,356.8 459.7,357.2 461.6,356.1 463.4,354.7 465.8,354.7 467.7,353.4 469.4,351.8 471.6,351.3 474.1,350.1 476.3,348.4 479.2,348.1 481.4,346.4"/>
<polyline stroke-width="1.3" points="325.2,290.5 324.7,292.8 326.5,294.9 326.0,297.2 325.5,299.5 327.1,301.6 326.8,303.9 325.8,306.1 326.1,308.3 327.1,310.7 326.3,312.8 325.0,315.0 325.9,317.3 326.4,319.6 324.7,321.7 325.2,324.0 326.7,326.2 326.0,329.0 327.3,331.2 328.8,333.4 328.1,336.2 329.3,338.5 330.2,340.8 328.1,342.4 325.8,343.7 324.8,346.4 322.6,347.9 320.5,346.2 317.9,345.5 317.5,349.5 317.9,352.2 317.9,355.0"/>
<polyline stroke-width="1.3" points="330.2,340.8 331.4,343.5 334.6,344.5 335.8,347.3 337.6,349.1 340.5,348.6 342.6,349.7 344.2,352.0 346.8,352.1 349.6,352.4 351.6,354.3 353.5,356.5 356.3,356.8 359.3,357.0 361.3,359.6 364.2,360.0 366.4,360.9 366.8,363.7 368.9,364.8 370.5,366.3 368.4,367.3 367.2,369.3 366.5,371.7 364.2,372.6 362.1,374.6 362.0,377.8 360.2,380.0 359.6,382.5 359.5,384.9 361.1,387.4 360.2,389.9 361.4,392.0 364.2,392.0 365.8,393.6 366.8,396.0 369.6,395.9 371.0,397.8 371.9,400.1 374.6,400.5 376.2,402.1 376.7,404.7 378.9,405.6 381.3,405.7 382.9,407.5 384.4,409.5 386.8,409.6"/>
<polyline stroke-width="1.3" points="325.6,416.5 327.5,418.3 330.6,417.6 332.5,419.5 334.4,421.3 337.4,420.7 339.4,422.4 340.4,424.7 342.5,425.8 345.2,426.3 346.4,428.5 347.2,431.0 349.7,431.6 351.3,433.3 352.9,435.0 355.1,435.5 357.7,435.3 359.2,437.2 361.6,436.5 363.6,434.7 366.6,435.7 368.7,434.3 371.0,433.3 372.8,435.9 375.0,438.2 376.5,440.2 377.8,442.3 377.3,445.1 378.9,447.1 381.5,448.4 382.8,451.0 385.4,450.6 386.4,447.8 388.8,447.1 390.5,449.7 393.9,449.9 395.8,452.3 398.1,453.6 400.8,452.1 403.2,452.4 405.6,453.3 407.8,454.1 410.4,453.2 412.5,454.6 414.6,456.3 417.1,455.6 419.4,456.2 421.2,457.9 423.4,459.0 426.4,458.7 427.7,461.3 429.9,462.4 432.3,463.1 434.8,462.3 436.9,460.7 438.2,458.0 441.1,457.8 443.1,456.2 445.8,455.6 448.6,455.3 451.3,457.0 454.0,456.2 455.0,458.2"/>
</g>
</g>
<polygon fill="none" stroke="#1a1a1a" stroke-width="1.9" stroke-linejoin="round" points="10.8,153.8 31.6,143.0 36.5,140.0 60.0,125.4 71.8,118.5 83.7,109.6 96.5,104.7 95.5,99.7 98.5,97.4 102.4,97.8 104.4,101.3 111.3,99.7 122.1,96.8 124.1,100.7 123.1,105.6 122.1,111.6 125.1,117.5 130.0,122.4 142.8,123.4 141.9,115.5 146.8,113.5 151.7,110.6 157.5,113.3 163.8,115.2 169.7,118.2 177.6,120.2 179.6,123.1 179.6,131.0 189.4,131.0 191.4,134.0 197.3,130.0 209.2,124.1 215.1,123.1 228.9,114.2 238.8,100.4 235.8,96.5 250.0,96.4 253.0,97.4 257.9,100.4 263.8,99.4 264.8,96.4 259.9,90.5 257.9,86.6 258.9,80.6 263.8,76.7 279.6,73.7 280.6,75.7 278.6,85.6 291.4,86.6 296.4,84.6 297.3,80.6 302.3,76.7 308.2,69.8 313.1,68.8 315.3,69.8 318.4,74.5 320.0,78.4 317.7,80.8 316.9,84.7 316.1,88.6 321.6,88.2 326.3,85.8 328.6,87.8 330.9,90.9 334.1,87.8 340.3,82.3 341.9,76.1 345.0,72.2 347.6,73.7 351.8,76.3 355.2,84.3 350.7,92.2 355.2,99.0 358.6,107.0 366.5,107.0 372.2,110.4 373.4,119.4 385.8,119.4 397.2,119.4 406.2,111.5 413.0,114.9 416.4,120.6 417.6,127.4 428.9,133.0 440.3,136.4 446.0,138.9 450.8,138.9 455.5,143.7 450.8,149.6 453.1,152.0 449.6,155.5 449.6,162.6 444.9,163.8 443.7,170.9 444.9,176.8 440.1,183.9 443.7,187.5 437.8,194.6 430.7,201.7 428.3,208.8 430.7,213.5 434.2,217.0 435.4,225.3 440.0,224.7 445.9,221.7 450.8,225.6 459.7,225.6 469.6,225.6 481.4,228.6 483.4,234.5 492.3,234.5 495.2,238.5 498.2,244.4 500.2,250.3 503.1,254.2 508.0,253.3 514.0,254.2 514.0,257.2 509.0,262.1 503.1,266.1 501.1,269.0 504.1,274.0 507.1,277.9 513.0,280.9 522.8,280.9 525.8,283.8 528.8,289.7 529.7,294.7 527.3,300.0 525.8,306.9 532.7,313.8 534.7,317.8 529.7,320.7 524.8,318.7 520.9,320.7 517.9,327.6 513.0,331.6 507.1,336.5 503.1,341.4 505.1,349.3 499.2,352.3 499.2,359.2 495.2,357.2 494.2,352.3 487.3,354.2 483.4,351.3 482.4,347.3 476.5,352.3 473.5,359.2 466.6,364.1 463.7,373.0 459.7,380.9 455.8,389.7 450.8,396.6 447.1,407.9 444.1,412.8 449.0,414.8 450.0,417.8 446.1,420.7 446.1,432.5 453.0,434.5 457.9,441.4 457.9,447.3 464.8,449.3 465.8,457.2 468.8,463.1 464.8,472.0 463.8,477.9 457.9,480.9 450.0,482.8 441.1,485.8 430.3,488.8 428.3,494.7 423.4,491.7 414.5,492.7 409.6,496.6 405.6,490.7 403.7,484.8 401.7,477.9 397.8,475.0 391.8,471.0 385.9,473.0 385.9,467.1 383.0,459.2 379.9,455.9 369.0,455.9 360.2,451.0 357.2,442.1 347.3,438.2 339.4,433.3 331.6,437.2 322.7,435.2 323.7,429.3 321.7,420.4 324.7,416.5 325.6,409.6 321.7,401.7 313.8,398.7 315.8,387.9 319.7,380.0 318.7,377.9 320.3,370.8 325.0,371.6 324.2,366.0 328.1,361.3 325.8,358.1 317.9,355.0 310.0,364.2 304.4,368.4 298.8,374.1 300.2,381.1 300.2,391.6 294.5,391.6 283.3,395.9 276.3,401.5 266.4,404.3 253.8,401.5 248.1,398.7 247.3,397.3 239.0,398.7 231.4,399.4 225.2,395.2 225.2,391.1 223.8,385.6 228.0,380.7 234.9,378.0 236.2,373.1 232.1,367.6 230.7,362.1 223.1,360.7 226.6,351.0 225.9,345.5 230.7,340.0 235.6,334.5 231.7,329.6 227.8,330.6 226.8,335.5 223.8,334.5 221.8,324.7 215.9,319.7 210.0,315.8 197.9,317.2 190.3,319.7 180.0,315.9 177.2,315.4 168.2,320.5 165.6,325.6 163.1,315.4 159.2,310.3 159.2,300.0 157.9,291.0 151.5,285.9 142.6,283.3 137.4,284.6 137.4,279.5 133.6,275.6 128.5,279.5 122.0,283.3 116.9,280.8 110.5,276.9 107.9,270.5 106.7,259.0 104.1,251.3 102.8,243.6 97.7,233.3 95.1,225.6 90.7,220.9 86.8,218.9 84.8,219.9 77.9,221.9 71.0,223.8 67.1,227.8 63.1,232.7 59.2,236.6 56.2,238.6 49.3,233.7 42.4,232.7 39.4,226.8 35.5,220.9 31.6,215.0 21.7,213.0 17.8,205.1 17.8,197.2 16.8,189.3 20.7,185.4 18.7,176.5 13.8,172.5 12.8,161.7"/>
<polygon points="310.6,84.2 316.9,84.9 318,86.5 316.1,88.3 310.6,88.7 309.8,86.5" fill="#fff" stroke="#1a1a1a" stroke-width="1.6" stroke-linejoin="round"/>
<ellipse cx="332.4" cy="82" rx="2.6" ry="3.5" fill="#1a1a1a" transform="rotate(30 332.4 82)"/>
<rect x="563" y="96" width="26" height="44" fill="#a50026"/>
<rect x="563" y="140" width="26" height="44" fill="#de3f2e"/>
<rect x="563" y="184" width="26" height="44" fill="#f88d52"/>
<rect x="563" y="228" width="26" height="44" fill="#fed384"/>
<rect x="563" y="272" width="26" height="44" fill="#ffffbf"/>
<rect x="563" y="316" width="26" height="44" fill="#d3ecf4"/>
<rect x="563" y="360" width="26" height="44" fill="#8fc3dd"/>
<rect x="563" y="404" width="26" height="44" fill="#5183bb"/>
<rect x="563" y="448" width="26" height="44" fill="#313695"/>
</svg>
<div class="t" style="left:79.5px;top:18.3px;font-size:15.2px;letter-spacing:-0.25px;font-weight:bold;">Température moyenne</div>
<div class="t" style="left:79px;top:40px;font-size:13.2px;letter-spacing:-0.12px;">moyenne février 2019</div>
<div class="t" style="left:615px;top:60.5px;font-size:13.5px;">°</div>
<div class="t" style="left:622.8px;top:62px;font-size:13.6px;font-weight:bold;">C</div>
<div class="t" style="left:601.5px;top:90.0px;font-size:13.7px;">8</div>
<div class="t" style="left:601.5px;top:134.0px;font-size:13.7px;">7.5</div>
<div class="t" style="left:601.5px;top:178.0px;font-size:13.7px;">7</div>
<div class="t" style="left:601.5px;top:222.0px;font-size:13.7px;">6.5</div>
<div class="t" style="left:601.5px;top:266.0px;font-size:13.7px;">6</div>
<div class="t" style="left:601.5px;top:310.0px;font-size:13.7px;">5.5</div>
<div class="t" style="left:601.5px;top:354.0px;font-size:13.7px;">5</div>
<div class="t" style="left:601.5px;top:398.0px;font-size:13.7px;">4.5</div>
<div class="t" style="left:601.5px;top:442.0px;font-size:13.7px;">4</div>
<div class="t" style="left:601.5px;top:486.0px;font-size:13.7px;">3.5</div>
</body></html>
